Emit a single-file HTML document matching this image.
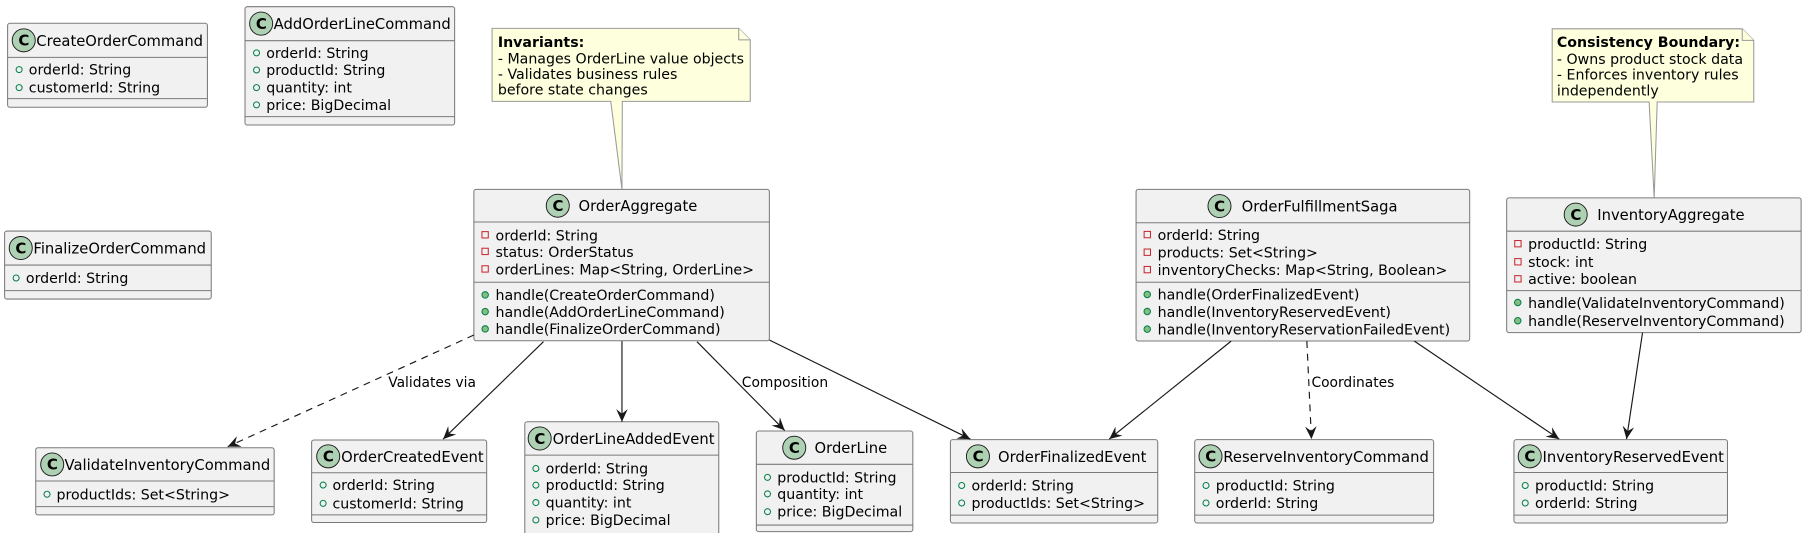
<!DOCTYPE html>
<html><head><meta charset="utf-8"><style>
html,body{margin:0;padding:0;background:#fff;}
svg{display:block;}
text{font-family:"DejaVu Sans","Liberation Sans",sans-serif;font-size:12.3px;fill:#000;}
.n{font-size:12.8px;}
.lb{font-size:12px;}
.b{fill:#F1F1F1;stroke:#7a7a7a;stroke-width:0.9;}
.l{stroke:#7a7a7a;stroke-width:0.9;}
.c{fill:#ADD1B2;stroke:#181818;stroke-width:0.8;}
.ct{font-weight:bold;font-size:13px;}
.pr{fill:none;stroke:#C82930;stroke-width:0.9;}
.pf{fill:none;stroke:#038048;stroke-width:0.9;}
.pm{fill:#84BE84;stroke:#038048;stroke-width:0.9;}
.a{stroke:#181818;stroke-width:1;fill:none;}
.d{stroke:#181818;stroke-width:1;fill:none;stroke-dasharray:6,5;}
.note{fill:#FEFFDD;stroke:#999;stroke-width:0.9;}
.bo{font-weight:bold;}
</style></head><body>
<svg width="1807" height="533" viewBox="0 0 1568 462.5" preserveAspectRatio="none" xmlns="http://www.w3.org/2000/svg">
<defs><marker id="ar" viewBox="0 0 12 10" refX="11" refY="5" markerWidth="12" markerHeight="10" orient="auto" markerUnits="userSpaceOnUse"><path d="M0,0 L11,5 L0,10 L4,5 Z" fill="#181818"/></marker></defs>

<!-- CreateOrderCommand -->
<rect class="b" x="6.6" y="20.2" width="173.4" height="72.9" rx="2"/>
<circle class="c" cx="20.6" cy="35" r="10"/><text class="ct" x="16" y="39.6">C</text>
<text class="n" x="31.5" y="39.8">CreateOrderCommand</text>
<line class="l" x1="6.6" y1="49.8" x2="180" y2="49.8"/>
<circle class="pf" cx="16.6" cy="60.4" r="2.6"/><text x="25" y="64.8">orderId: String</text>
<circle class="pf" cx="16.6" cy="76" r="2.6"/><text x="25" y="80.4">customerId: String</text>
<line class="l" x1="6.6" y1="85.6" x2="180" y2="85.6"/>

<!-- AddOrderLineCommand -->
<rect class="b" x="212.6" y="5.8" width="181.9" height="102.7" rx="2"/>
<circle class="c" cx="226.6" cy="20.5" r="10"/><text class="ct" x="222" y="25.1">C</text>
<text class="n" x="237.5" y="25.3">AddOrderLineCommand</text>
<line class="l" x1="212.6" y1="35.3" x2="394.5" y2="35.3"/>
<circle class="pf" cx="222.6" cy="45.9" r="2.6"/><text x="231" y="50.3">orderId: String</text>
<circle class="pf" cx="222.6" cy="60.7" r="2.6"/><text x="231" y="65.1">productId: String</text>
<circle class="pf" cx="222.6" cy="76" r="2.6"/><text x="231" y="80.4">quantity: int</text>
<circle class="pf" cx="222.6" cy="91" r="2.6"/><text x="231" y="95.4">price: BigDecimal</text>
<line class="l" x1="212.6" y1="101.2" x2="394.5" y2="101.2"/>

<!-- FinalizeOrderCommand -->
<rect class="b" x="4" y="200.5" width="179.3" height="59" rx="2"/>
<circle class="c" cx="18" cy="215.2" r="10"/><text class="ct" x="13.4" y="219.8">C</text>
<text class="n" x="29" y="220">FinalizeOrderCommand</text>
<line class="l" x1="4" y1="230" x2="183.3" y2="230"/>
<circle class="pf" cx="14" cy="241.2" r="2.6"/><text x="22.5" y="245.6">orderId: String</text>
<line class="l" x1="4" y1="252.2" x2="183.3" y2="252.2"/>

<!-- Note Invariants -->
<polygon class="note" points="530,88 540,88 539.7,164.3"/>
<polygon class="note" points="427,24.6 641,24.6 651,34.6 651,88 427,88"/>
<polyline class="note" points="641,24.6 641,34.6 651,34.6"/>
<line x1="530.5" y1="88" x2="539.5" y2="88" stroke="#FEFFDD" stroke-width="1.5"/>
<text class="bo" x="432" y="40.8">Invariants:</text>
<text x="432" y="55.1">- Manages OrderLine value objects</text>
<text x="432" y="68.7">- Validates business rules</text>
<text x="432" y="82">before state changes</text>

<!-- OrderAggregate -->
<rect class="b" x="411.2" y="164.3" width="256.4" height="131.4" rx="2"/>
<circle class="c" cx="484" cy="178.5" r="10"/><text class="ct" x="479.4" y="183.1">C</text>
<text class="n" x="502" y="183.3">OrderAggregate</text>
<line class="l" x1="411.2" y1="192.6" x2="667.6" y2="192.6"/>
<rect class="pr" x="418.2" y="201" width="5.5" height="5.5"/><text x="430" y="208.6">orderId: String</text>
<rect class="pr" x="418.2" y="215.4" width="5.5" height="5.5"/><text x="430" y="223">status: OrderStatus</text>
<rect class="pr" x="418.2" y="230.6" width="5.5" height="5.5"/><text x="430" y="238.2">orderLines: Map&lt;String, OrderLine&gt;</text>
<line class="l" x1="411.2" y1="244.9" x2="667.6" y2="244.9"/>
<circle class="pm" cx="421" cy="255.9" r="2.8"/><text x="430" y="260.5">handle(CreateOrderCommand)</text>
<circle class="pm" cx="421" cy="270.4" r="2.8"/><text x="430" y="275">handle(AddOrderLineCommand)</text>
<circle class="pm" cx="421" cy="285.4" r="2.8"/><text x="430" y="290">handle(FinalizeOrderCommand)</text>

<!-- OrderFulfillmentSaga -->
<rect class="b" x="985.8" y="164.3" width="289.5" height="131.6" rx="2"/>
<circle class="c" cx="1058.2" cy="178.8" r="10"/><text class="ct" x="1053.6" y="183.4">C</text>
<text class="n" x="1077.4" y="183.6">OrderFulfillmentSaga</text>
<line class="l" x1="985.8" y1="193.3" x2="1275.3" y2="193.3"/>
<rect class="pr" x="992.8" y="200.8" width="5.5" height="5.5"/><text x="1004.5" y="208.2">orderId: String</text>
<rect class="pr" x="992.8" y="216.1" width="5.5" height="5.5"/><text x="1004.5" y="223.5">products: Set&lt;String&gt;</text>
<rect class="pr" x="992.8" y="231.2" width="5.5" height="5.5"/><text x="1004.5" y="238.6">inventoryChecks: Map&lt;String, Boolean&gt;</text>
<line class="l" x1="985.8" y1="244.9" x2="1275.3" y2="244.9"/>
<circle class="pm" cx="995.5" cy="255.5" r="2.8"/><text x="1004.5" y="260.1">handle(OrderFinalizedEvent)</text>
<circle class="pm" cx="995.5" cy="270.3" r="2.8"/><text x="1004.5" y="274.9">handle(InventoryReservedEvent)</text>
<circle class="pm" cx="995.5" cy="285.6" r="2.8"/><text x="1004.5" y="290.2">handle(InventoryReservationFailedEvent)</text>

<!-- Note Consistency -->
<polygon class="note" points="1431,88.5 1438,88.5 1435.4,171.7"/>
<polygon class="note" points="1346.9,25 1511.8,25 1521.8,35 1521.8,88.5 1346.9,88.5"/>
<polyline class="note" points="1511.8,25 1511.8,35 1521.8,35"/>
<line x1="1431.5" y1="88.5" x2="1437.5" y2="88.5" stroke="#FEFFDD" stroke-width="1.5"/>
<text class="bo" x="1351" y="40.8">Consistency Boundary:</text>
<text x="1351" y="55.5">- Owns product stock data</text>
<text x="1351" y="69.1">- Enforces inventory rules</text>
<text x="1351" y="82.8">independently</text>

<!-- InventoryAggregate -->
<rect class="b" x="1307.4" y="171.7" width="255.5" height="116.9" rx="2"/>
<circle class="c" cx="1367.3" cy="186.2" r="10"/><text class="ct" x="1362.7" y="190.8">C</text>
<text class="n" x="1386" y="191">InventoryAggregate</text>
<line class="l" x1="1307.4" y1="200.6" x2="1562.9" y2="200.6"/>
<rect class="pr" x="1314.4" y="208.7" width="5.5" height="5.5"/><text x="1326" y="216.1">productId: String</text>
<rect class="pr" x="1314.4" y="224.4" width="5.5" height="5.5"/><text x="1326" y="231.8">stock: int</text>
<rect class="pr" x="1314.4" y="239.2" width="5.5" height="5.5"/><text x="1326" y="246.6">active: boolean</text>
<line class="l" x1="1307.4" y1="252.2" x2="1562.9" y2="252.2"/>
<circle class="pm" cx="1317" cy="262.5" r="2.8"/><text x="1326" y="267.1">handle(ValidateInventoryCommand)</text>
<circle class="pm" cx="1317" cy="278.3" r="2.8"/><text x="1326" y="282.9">handle(ReserveInventoryCommand)</text>

<!-- ValidateInventoryCommand -->
<rect class="b" x="31" y="388.5" width="206.9" height="58.3" rx="2"/>
<circle class="c" cx="45.3" cy="403" r="10"/><text class="ct" x="40.7" y="407.6">C</text>
<text class="n" x="56" y="407.8">ValidateInventoryCommand</text>
<line class="l" x1="31" y1="417.4" x2="237.9" y2="417.4"/>
<circle class="pf" cx="40.8" cy="428.9" r="2.6"/><text x="49" y="433.3">productIds: Set&lt;String&gt;</text>
<line class="l" x1="31" y1="439.6" x2="237.9" y2="439.6"/>

<!-- OrderCreatedEvent -->
<rect class="b" x="270.4" y="381.8" width="151.9" height="71.6" rx="2"/>
<circle class="c" cx="284.8" cy="396" r="10"/><text class="ct" x="280.2" y="400.6">C</text>
<text class="n" x="296" y="400.8">OrderCreatedEvent</text>
<line class="l" x1="270.4" y1="410.2" x2="422.3" y2="410.2"/>
<circle class="pf" cx="280.4" cy="420.9" r="2.6"/><text x="288.5" y="425.3">orderId: String</text>
<circle class="pf" cx="280.4" cy="436.8" r="2.6"/><text x="288.5" y="441.2">customerId: String</text>
<line class="l" x1="270.4" y1="446.8" x2="422.3" y2="446.8"/>

<!-- OrderLineAddedEvent -->
<rect class="b" x="455.4" y="366" width="168.3" height="104" rx="2"/>
<circle class="c" cx="468.3" cy="380.5" r="10"/><text class="ct" x="463.7" y="385.1">C</text>
<text class="n" x="479.5" y="385.3">OrderLineAddedEvent</text>
<line class="l" x1="455.4" y1="394.9" x2="623.7" y2="394.9"/>
<circle class="pf" cx="465" cy="406.5" r="2.6"/><text x="473.5" y="410.9">orderId: String</text>
<circle class="pf" cx="465" cy="421" r="2.6"/><text x="473.5" y="425.4">productId: String</text>
<circle class="pf" cx="465" cy="436.1" r="2.6"/><text x="473.5" y="440.5">quantity: int</text>
<circle class="pf" cx="465" cy="451.2" r="2.6"/><text x="473.5" y="455.6">price: BigDecimal</text>

<!-- OrderLine -->
<rect class="b" x="656.3" y="374" width="135.8" height="87.3" rx="2"/>
<circle class="c" cx="689.2" cy="388.5" r="10"/><text class="ct" x="684.6" y="393.1">C</text>
<text class="n" x="706.8" y="393.3">OrderLine</text>
<line class="l" x1="656.3" y1="402.9" x2="792.1" y2="402.9"/>
<circle class="pf" cx="666" cy="414.2" r="2.6"/><text x="674.5" y="418.6">productId: String</text>
<circle class="pf" cx="666" cy="428.6" r="2.6"/><text x="674.5" y="433">quantity: int</text>
<circle class="pf" cx="666" cy="444" r="2.6"/><text x="674.5" y="448.4">price: BigDecimal</text>
<line class="l" x1="656.3" y1="455.6" x2="792.1" y2="455.6"/>

<!-- OrderFinalizedEvent -->
<rect class="b" x="824.7" y="381.5" width="179.9" height="72.3" rx="2"/>
<circle class="c" cx="848.6" cy="396" r="10"/><text class="ct" x="844" y="400.6">C</text>
<text class="n" x="866" y="400.8">OrderFinalizedEvent</text>
<line class="l" x1="824.7" y1="410" x2="1004.6" y2="410"/>
<circle class="pf" cx="834.5" cy="421.3" r="2.6"/><text x="843" y="425.7">orderId: String</text>
<circle class="pf" cx="834.5" cy="436.5" r="2.6"/><text x="843" y="440.9">productIds: Set&lt;String&gt;</text>
<line class="l" x1="824.7" y1="447" x2="1004.6" y2="447"/>

<!-- ReserveInventoryCommand -->
<rect class="b" x="1036.7" y="381.5" width="207.3" height="72.3" rx="2"/>
<circle class="c" cx="1050.4" cy="396" r="10"/><text class="ct" x="1045.8" y="400.6">C</text>
<text class="n" x="1061.5" y="400.8">ReserveInventoryCommand</text>
<line class="l" x1="1036.7" y1="410" x2="1244" y2="410"/>
<circle class="pf" cx="1046.5" cy="421.3" r="2.6"/><text x="1055" y="425.7">productId: String</text>
<circle class="pf" cx="1046.5" cy="436.5" r="2.6"/><text x="1055" y="440.9">orderId: String</text>
<line class="l" x1="1036.7" y1="447" x2="1244" y2="447"/>

<!-- InventoryReservedEvent -->
<rect class="b" x="1313.7" y="381.5" width="185.3" height="72.3" rx="2"/>
<circle class="c" cx="1327.4" cy="396" r="10"/><text class="ct" x="1322.8" y="400.6">C</text>
<text class="n" x="1338.5" y="400.8">InventoryReservedEvent</text>
<line class="l" x1="1313.7" y1="410" x2="1499" y2="410"/>
<circle class="pf" cx="1323.5" cy="421.3" r="2.6"/><text x="1332" y="425.7">productId: String</text>
<circle class="pf" cx="1323.5" cy="436.5" r="2.6"/><text x="1332" y="440.9">orderId: String</text>
<line class="l" x1="1313.7" y1="447" x2="1499" y2="447"/>

<!-- Connectors -->
<line class="d" x1="411.2" y1="290.7" x2="197.6" y2="387.6" marker-end="url(#ar)"/>
<text class="lb" x="413" y="336" text-anchor="end">Validates via</text>
<line class="a" x1="471.6" y1="296.5" x2="384.5" y2="381" marker-end="url(#ar)"/>
<line class="a" x1="539.7" y1="296" x2="539.7" y2="366" marker-end="url(#ar)"/>
<line class="a" x1="604.8" y1="296.5" x2="680.9" y2="373.5" marker-end="url(#ar)"/>
<text class="lb" x="643.7" y="336">Composition</text>
<line class="a" x1="667.6" y1="295" x2="842" y2="381" marker-end="url(#ar)"/>
<line class="a" x1="1068.3" y1="296" x2="962.5" y2="381" marker-end="url(#ar)"/>
<line class="d" x1="1134" y1="296" x2="1138" y2="381" marker-end="url(#ar)"/>
<text class="lb" x="1138" y="336">Coordinates</text>
<line class="a" x1="1227.3" y1="296" x2="1353" y2="381" marker-end="url(#ar)"/>
<line class="a" x1="1425.3" y1="288.6" x2="1411.4" y2="381" marker-end="url(#ar)"/>
</svg>
</body></html>
